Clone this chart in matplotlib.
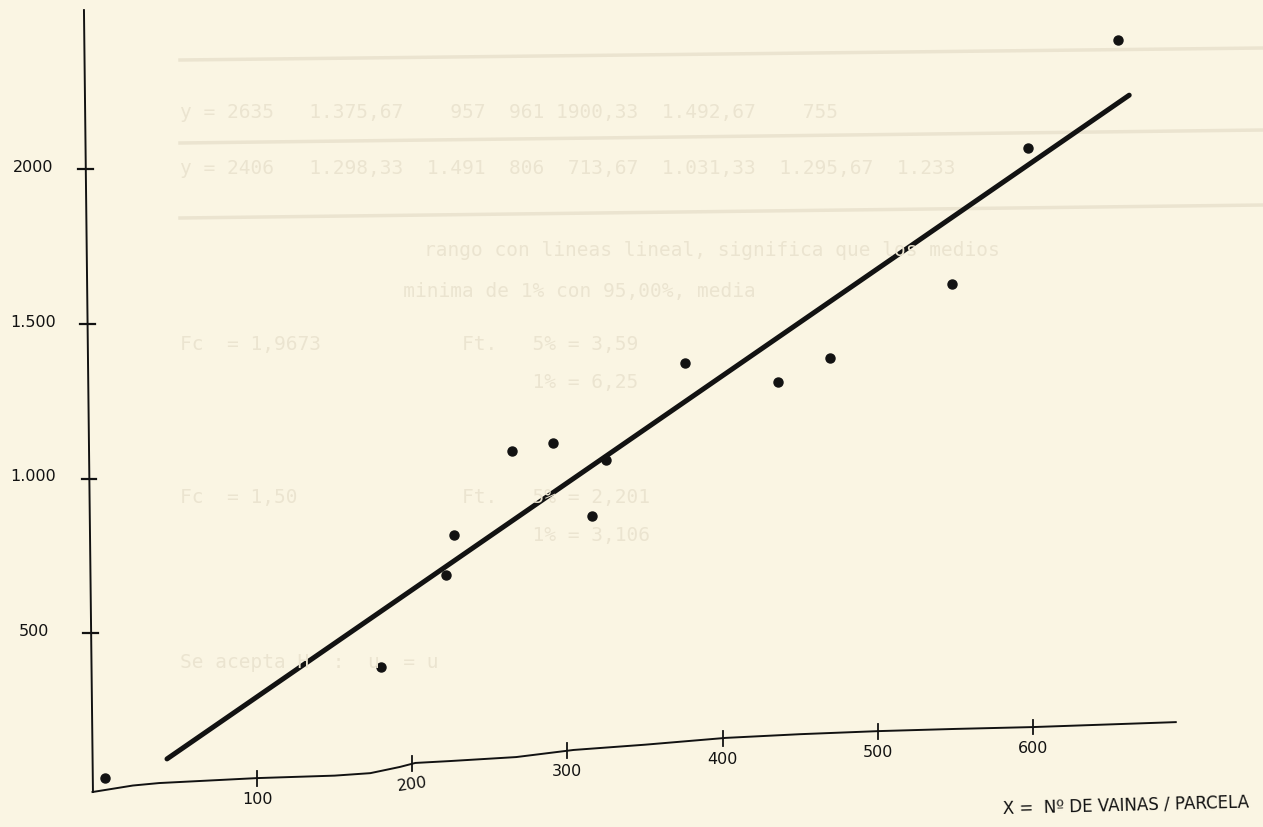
import numpy as np
import matplotlib
matplotlib.use("Agg")
import matplotlib.pyplot as plt

# scatter data: pods per plot vs yield
vainas = [2, 180, 222, 227, 264, 291, 316, 325, 376, 436, 469, 548, 597, 655]
rendimiento = [32, 390, 688, 818, 1091, 1116, 881, 1061, 1375, 1314, 1389, 1630, 2069, 2419]

# fitted line end points
recta_x = [42, 662]
recta_y = [94, 2240]

x_ticks = [100, 200, 300, 400, 500, 600]
x_tick_labels = ["100", "200", "300", "400", "500", "600"]
y_ticks = [500, 1000, 1500, 2000]
y_tick_labels = ["500", "1.000", "1.500", "2000"]

# hand drawn x axis (wavy baseline)
eje_x = [-6, 20, 37, 100, 150, 173, 192, 202, 224, 267, 304, 350, 402, 450, 501, 550, 600, 692]
eje_y = [-13, 8, 16, 32, 40, 48, 68, 81, 87, 100, 123, 140, 162, 174, 184, 191, 197, 213]

bg = "#faf5e3"
ink = "#121212"
ghost = "#ebe4d0"

W, H = 1263, 827
fig = plt.figure(figsize=(W / 100, H / 100), dpi=100)
fig.patch.set_facecolor(bg)
ax = fig.add_axes([0, 0, 1, 1])
ax.set_facecolor(bg)
ax.set_xlim(-65.6, 748.2)
ax.set_ylim(-126.1, 2547.7)
ax.axis("off")

# faint show-through of the page behind
def px(x, y):
    return x / W, 1 - y / H

for y0, y1 in [(60, 48), (143, 130), (218, 205)]:
    fig.add_artist(plt.Line2D([180 / W, 1], [1 - y0 / H, 1 - y1 / H],
                              color=ghost, lw=2.5, zorder=0))
rows = [
    (180, 112, "y = 2635   1.375,67    957  961 1900,33  1.492,67    755"),
    (180, 168, "y = 2406   1.298,33  1.491  806  713,67  1.031,33  1.295,67  1.233"),
    (330, 250, "        rango con lineas lineal, significa que los medios"),
    (180, 292, "                   minima de 1% con 95,00%, media"),
    (180, 345, "Fc  = 1,9673            Ft.   5% = 3,59"),
    (180, 382, "                              1% = 6,25"),
    (180, 498, "Fc  = 1,50              Ft.   5% = 2,201"),
    (180, 535, "                              1% = 3,106"),
    (180, 662, "Se acepta H  :  u  = u"),
]
for x, y, t in rows:
    fx, fy = px(x, y)
    fig.text(fx, fy, t, fontsize=14, family="DejaVu Sans Mono", color=ghost,
             va="center", ha="left", zorder=0)

# axes drawn by hand
ax.plot([-11.5, -5.7], [2515, -13], color=ink, lw=1.4, zorder=2)
ax.plot(eje_x, eje_y, color=ink, lw=1.4, zorder=2)

base = np.interp(x_ticks, eje_x, eje_y)
for xv, b, lab in zip(x_ticks, base, x_tick_labels):
    ax.plot([xv, xv], [b - 24, b + 24], color=ink, lw=1.3, zorder=2)
    rot = 8 if xv == 200 else 0
    ax.text(xv, b - 68, lab, ha="center", va="center", fontsize=11.5,
            color=ink, rotation=rot)

for yv, lab in zip(y_ticks, y_tick_labels):
    xa = -11.5 + (2515 - yv) / 2528 * 5.8
    ax.plot([xa - 5, xa + 4.5], [yv, yv], color=ink, lw=1.6, zorder=2)
    ax.text(-44, yv + 6, lab, ha="center", va="center", fontsize=11.5, color=ink)

ax.plot(recta_x, recta_y, color=ink, lw=3.6, solid_capstyle="round", zorder=3)
ax.plot(vainas, rendimiento, "o", color=ink, ms=6.5, zorder=4)

fx, fy = px(1126, 805)
fig.text(fx, fy, "X =  Nº DE VAINAS / PARCELA", ha="center", va="center",
         fontsize=12, color=ink, rotation=1.5)

fig.savefig("out.png", dpi=100, facecolor=bg)
